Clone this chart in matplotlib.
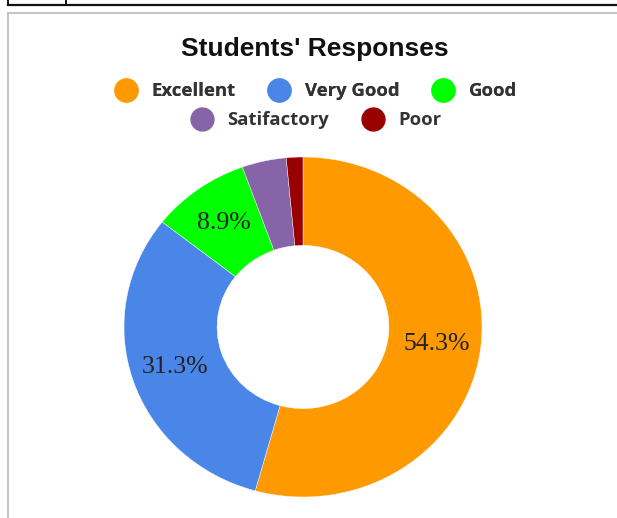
import matplotlib.pyplot as plt
from matplotlib.lines import Line2D

categories = ["Excellent", "Very Good", "Good", "Satifactory", "Poor"]
values = [54.3, 31.3, 8.9, 4.0, 1.5]
colors = ["#FF9900", "#4A86E8", "#00FF00", "#8764A8", "#990000"]

W, H = 617, 518
fig = plt.figure(figsize=(W / 100, H / 100), dpi=100)
fig.patch.set_facecolor("white")


def fx(px):
    return px / W


def fy(py):
    return 1 - py / H


# page / table borders around the chart
fig.add_artist(Line2D([fx(8), 1], [fy(5), fy(5)], color="#111111", lw=1.6))
fig.add_artist(Line2D([fx(8), fx(8)], [1, fy(5)], color="#111111", lw=1.4))
fig.add_artist(Line2D([fx(66), fx(66)], [1, fy(5)], color="#111111", lw=1.4))
fig.add_artist(Line2D([fx(8), 1], [fy(13), fy(13)], color="#bbbbbb", lw=1.2))
fig.add_artist(Line2D([fx(8), fx(8)], [fy(13), 0], color="#bbbbbb", lw=1.2))

# donut
ax = fig.add_axes([fx(124), fy(497), fx(482) - fx(124), fy(157) - fy(497)])


def pct(p):
    return f"{p:.1f}%" if p > 5 else ""


wedges, texts, autotexts = ax.pie(
    values, colors=colors, startangle=90, counterclock=False,
    autopct=pct, pctdistance=0.755,
    wedgeprops=dict(width=0.52, edgecolor="white", linewidth=0.3),
    textprops=dict(family="Liberation Serif", fontsize=18.5, color="#222222"),
)
ax.set_aspect("auto")
ax.set_xlim(-1, 1)
ax.set_ylim(-1, 1)

fig.text(fx(315), fy(49), "Students' Responses", ha="center", va="center",
         fontsize=19, fontweight="bold", family="Liberation Sans", color="#111111")

handles = [Line2D([], [], marker="o", linestyle="none", markersize=16.5,
                  markerfacecolor=c, markeredgecolor=c) for c in colors]
leg1 = fig.legend(handles[:3], categories[:3], loc="center",
                  bbox_to_anchor=(fx(316), fy(91)), ncol=3, frameon=False,
                  handletextpad=0.8, columnspacing=1.75, handlelength=1.2,
                  prop=dict(family="Open Sans", weight="bold", size=13.3))
leg2 = fig.legend(handles[3:], categories[3:], loc="center",
                  bbox_to_anchor=(fx(316), fy(120)), ncol=2, frameon=False,
                  handletextpad=0.8, columnspacing=1.75, handlelength=1.2,
                  prop=dict(family="Open Sans", weight="bold", size=13.3))
for leg in (leg1, leg2):
    for t in leg.get_texts():
        t.set_color("#333333")
fig.add_artist(leg1)

fig.savefig("out.png", dpi=100)
